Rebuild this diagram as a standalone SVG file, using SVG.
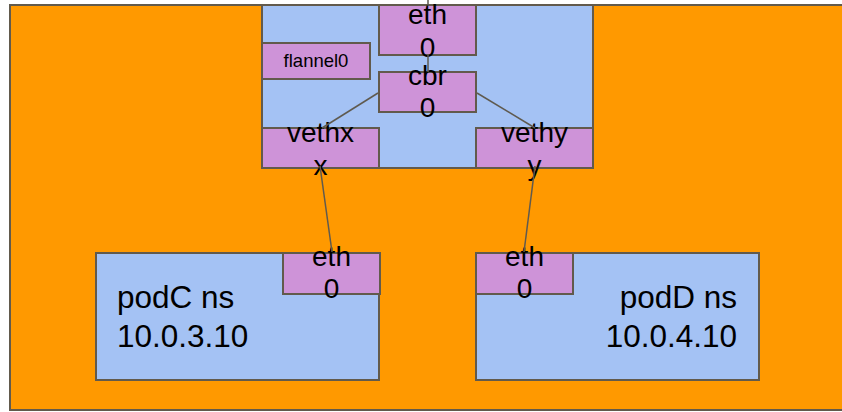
<svg xmlns="http://www.w3.org/2000/svg" width="842" height="412" viewBox="0 0 842 412">
<style>
.bg{fill:#ff9900;stroke:#625a4c;stroke-width:2}
.ns{fill:#a4c2f4;stroke:#625a4c;stroke-width:2}
.if{fill:#ce93d8;stroke:#625a4c;stroke-width:2}
.c{stroke:#5f5a4f;stroke-width:1.5;fill:none}
text{font-family:"Liberation Sans",Arial,sans-serif;fill:#000}
.b{font-size:28px;text-anchor:middle}
.s{font-size:18.5px;text-anchor:middle}
.p{font-size:31.5px}
</style>
<rect width="842" height="412" fill="#ffffff"/>
<g id="outer"><rect class="bg" x="10" y="5" width="850" height="405"/></g>
<g id="node"><rect class="ns" x="262" y="5" width="331" height="163"/></g>
<g id="podC"><rect class="ns" x="96" y="253" width="283" height="127"/>
<text class="p" x="117" y="308">podC ns</text><text class="p" x="117" y="347">10.0.3.10</text></g>
<g id="podD"><rect class="ns" x="476" y="253" width="283" height="127"/>
<text class="p" x="737" y="308" text-anchor="end">podD ns</text><text class="p" x="737" y="347" text-anchor="end">10.0.4.10</text></g>
<g id="eth0"><rect class="if" x="379" y="5" width="97" height="50"/>
<text class="b" x="427.5" y="24">eth</text><text class="b" x="427.5" y="57">0</text></g>
<g id="flannel0"><rect class="if" x="262" y="43" width="108" height="36"/>
<text class="s" x="316" y="67">flannel0</text></g>
<g id="cbr0"><rect class="if" x="379" y="72" width="97" height="40"/>
<text class="b" x="427.5" y="85">cbr</text><text class="b" x="427.5" y="117">0</text></g>
<g id="vethxx"><rect class="if" x="262" y="128" width="117" height="40"/>
<text class="b" x="320.5" y="142">vethx</text><text class="b" x="320.5" y="175">x</text></g>
<g id="vethyy"><rect class="if" x="476" y="128" width="117" height="40"/>
<text class="b" x="534.5" y="142">vethy</text><text class="b" x="534.5" y="175">y</text></g>
<g id="podC-eth0"><rect class="if" x="283" y="253" width="97" height="41"/>
<text class="b" x="331.5" y="266">eth</text><text class="b" x="331.5" y="298">0</text></g>
<g id="podD-eth0"><rect class="if" x="476" y="253" width="97" height="41"/>
<text class="b" x="524.5" y="266">eth</text><text class="b" x="524.5" y="298">0</text></g>
<g id="connectors">
<line class="c" x1="428" y1="0" x2="428" y2="5"/>
<line class="c" x1="428" y1="55" x2="428" y2="72"/>
<line class="c" x1="378" y1="93" x2="322" y2="128"/>
<line class="c" x1="477" y1="93" x2="535" y2="128"/>
<line class="c" x1="320" y1="166" x2="332" y2="252"/>
<line class="c" x1="535" y1="166" x2="524" y2="252"/>
</g>
</svg>
